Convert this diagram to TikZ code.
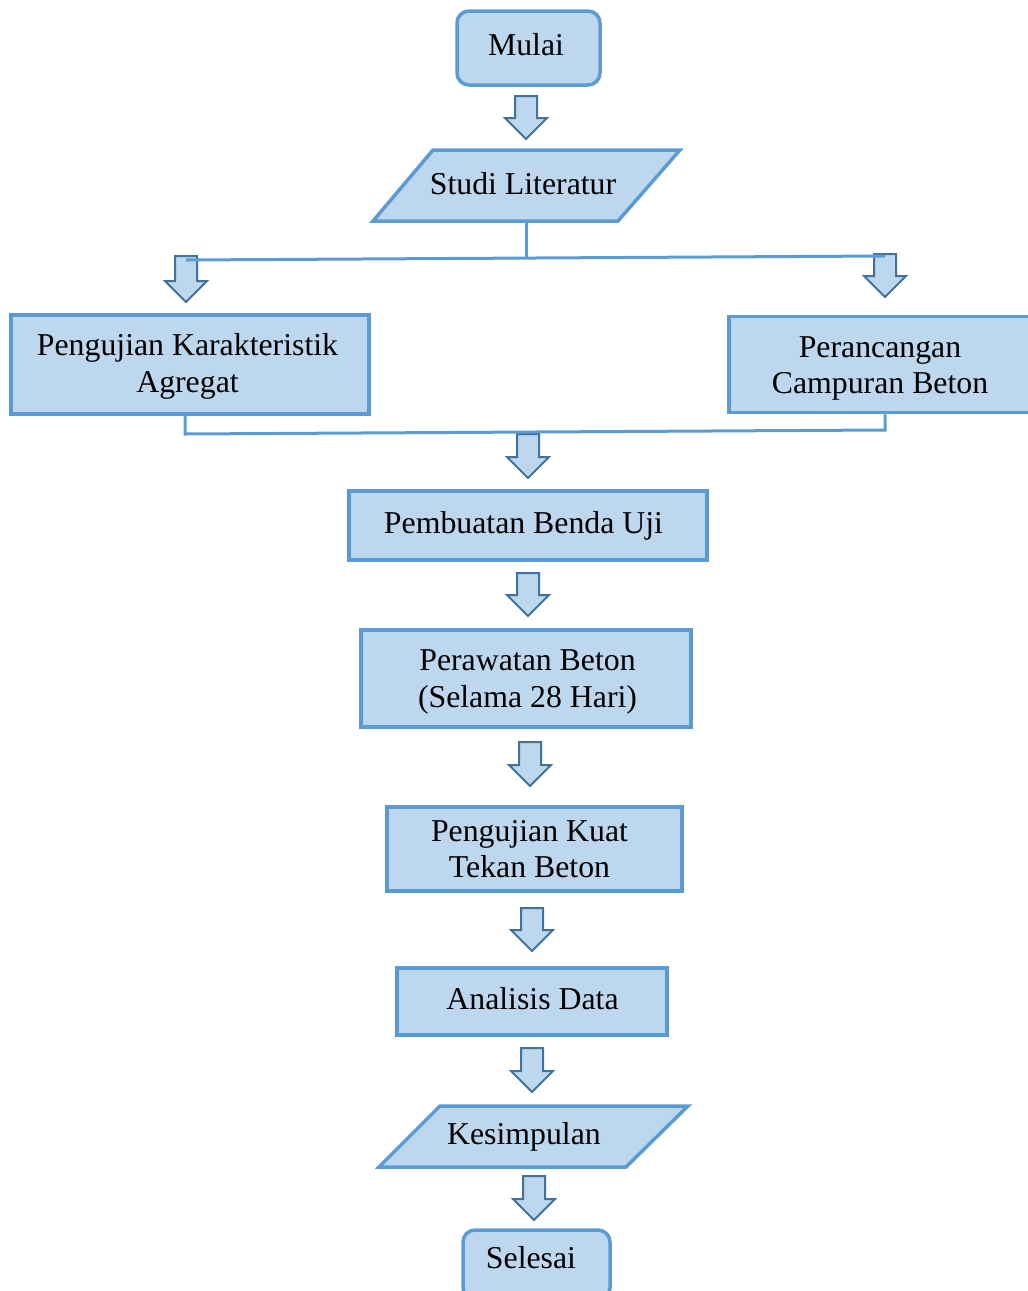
\documentclass[tikz,border=0pt]{standalone}
\usepackage{fontspec}
\setmainfont{Liberation Serif}
\usetikzlibrary{calc}
\definecolor{boxfill}{HTML}{BDD7EE}
\definecolor{boxline}{HTML}{5B9BD5}
\definecolor{arrline}{HTML}{41719C}
\newcommand\blockarrow[3]{% x, top y, length
  \draw[barrow] (#1-11,#2) -- (#1+11,#2) -- (#1+11,#2+#3-21) -- (#1+21,#2+#3-21)
    -- (#1,#2+#3) -- (#1-21,#2+#3-21) -- (#1-11,#2+#3-21) -- cycle;}
\begin{document}
\begin{tikzpicture}[x=1pt,y=-1pt,
  lbl/.style={inner sep=0pt,align=center,font=\fontsize{31.8}{36.5}\selectfont},
  box/.style={draw=boxline,fill=boxfill,line width=3.5pt,inner sep=0pt},
  rbox/.style={box,rounded corners=12pt},
  para/.style={draw=boxline,fill=boxfill,line width=3.5pt},
  conn/.style={draw=boxline,line width=3pt},
  barrow/.style={draw=arrline,fill=boxfill,line width=2pt,line join=miter}]
\useasboundingbox (0,0) rectangle (1028,1291);
\clip (0,0) rectangle (1028,1291);

\node[rbox,minimum width=143pt,minimum height=74pt] (mulai) at (528.5,48) {};
\node[lbl] (mulaitxt) at (526,45) {Mulai};
\blockarrow{526}{96}{43}

\path[para] (433,150) -- (680,150) -- (618,221) -- (373,221) -- cycle;
\node[lbl] (studi) at (523,184) {Studi Literatur};
\coordinate (studib) at (526,221);

\blockarrow{186}{256}{46}
\blockarrow{885}{254}{43}
\coordinate (split) at (526,257);
\coordinate (splitL) at (186,260);
\coordinate (splitR) at (885,256);
\draw[conn] (studib) -- (split);
\draw[conn] (splitL) -- (splitR);

\node[box,minimum width=358pt,minimum height=99pt] (uji) at (190,364.5) {};
\node[lbl] (ujitxt) at (187.5,366.5) {Pengujian Karakteristik\\Agregat};
\node[box,minimum width=302pt,minimum height=96pt] (rancang) at (880,364.5) {};
\node[lbl] (rancangtxt) at (880,368.5) {Perancangan\\Campuran Beton};

\blockarrow{528}{434}{44}
\coordinate (joinL) at (185,434);
\coordinate (joinR) at (885,430);
\draw[conn] (uji.south -| joinL) -- (joinL) -- (joinR) -- (rancang.south -| joinR);

\node[box,minimum width=358pt,minimum height=69pt] (buat) at (528,525.5) {};
\node[lbl] (buattxt) at (523.5,525.5) {Pembuatan Benda Uji};
\blockarrow{528}{573}{43}
\node[box,minimum width=330pt,minimum height=97pt] (rawat) at (526,678.5) {};
\node[lbl] (rawattxt) at (527.5,682) {Perawatan Beton\\(Selama 28 Hari)};
\blockarrow{530}{742}{44}
\node[box,minimum width=295pt,minimum height=84pt] (kuat) at (534.5,849) {};
\node[lbl] (kuattxt) at (529.5,849) {Pengujian Kuat\\Tekan Beton};
\blockarrow{532}{908}{43}
\node[box,minimum width=270pt,minimum height=67pt] (analisis) at (532,1001.5) {};
\node[lbl] (analisistxt) at (532.5,998.5) {Analisis Data};
\blockarrow{532}{1048}{44}

\path[para] (440,1106) -- (688,1106) -- (626,1167) -- (379,1167) -- cycle;
\node[lbl] (simpul) at (524,1137) {Kesimpulan};
\blockarrow{534}{1176}{44}

\node[rbox,minimum width=147pt,minimum height=70pt] (selesai) at (536.5,1265) {};
\node[lbl] (selesaitxt) at (531,1258) {Selesai};
\end{tikzpicture}
\end{document}
